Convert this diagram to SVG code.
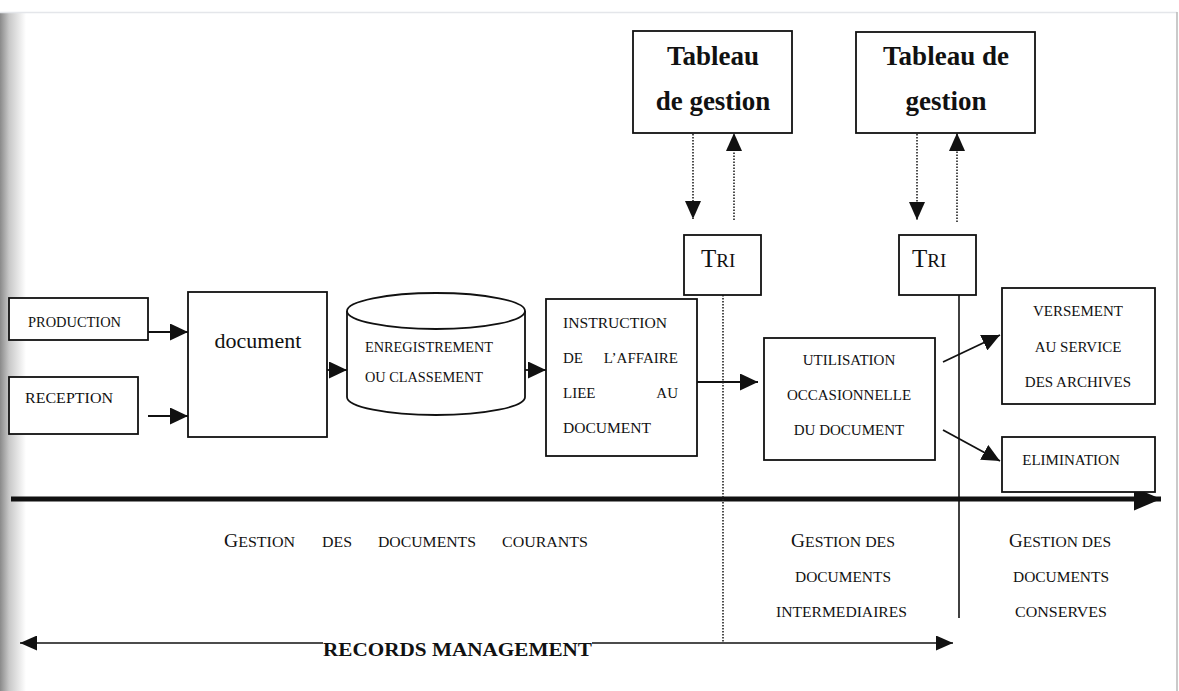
<svg xmlns="http://www.w3.org/2000/svg" width="1179" height="691" viewBox="0 0 1179 691">
<style>
.box{fill:#fff;stroke:#111;stroke-width:1.8}
.ln{fill:none;stroke:#111;stroke-width:1.8}
.dot{fill:none;stroke:#222;stroke-width:1.6;stroke-dasharray:1.5 1.5}
.t{font-family:"Liberation Serif","Times New Roman",serif;font-size:15px;fill:#111}
.tb{font-family:"Liberation Serif","Times New Roman",serif;font-size:27px;font-weight:bold;fill:#111}
.sc{font-family:"Liberation Serif","Times New Roman",serif;font-size:15.5px;fill:#111}
.mid{text-anchor:middle}
</style>
<defs>
<linearGradient id="edge" x1="0" y1="0" x2="1" y2="0">
<stop offset="0" stop-color="#8a8a8a"/>
<stop offset="0.35" stop-color="#c8c8c8"/>
<stop offset="1" stop-color="#ffffff"/>
</linearGradient>
<marker id="ah" markerUnits="userSpaceOnUse" markerWidth="18" markerHeight="17" refX="18" refY="8.5" orient="auto" viewBox="0 0 18 17">
<path d="M0,0 L18,8.5 L0,17 z" fill="#111"/>
</marker>
<marker id="ahd" markerUnits="userSpaceOnUse" markerWidth="18" markerHeight="16" refX="18" refY="8" orient="auto" viewBox="0 0 18 16">
<path d="M0,0 L18,8 L0,16 z" fill="#111"/>
</marker>
<marker id="ahb" markerUnits="userSpaceOnUse" markerWidth="27" markerHeight="23" refX="27" refY="11.5" orient="auto" viewBox="0 0 27 23">
<path d="M0,0 L27,11.5 L0,23 z" fill="#111"/>
</marker>
<marker id="ahs" markerUnits="userSpaceOnUse" markerWidth="17" markerHeight="15" refX="17" refY="7.5" orient="auto-start-reverse" viewBox="0 0 17 15">
<path d="M0,0 L17,7.5 L0,15 z" fill="#111"/>
</marker>
</defs>
<rect x="0" y="0" width="1179" height="691" fill="#fff"/>
<rect x="0" y="12" width="26" height="679" fill="url(#edge)"/>
<line x1="0" y1="12.5" x2="1177" y2="12.5" stroke="#e4e6ea" stroke-width="1.5"/>
<line x1="1177" y1="12" x2="1177" y2="691" stroke="#b8b8b8" stroke-width="1.5"/>

<g id="connectors">
<line class="ln" x1="148" y1="332" x2="188" y2="332" marker-end="url(#ah)"/>
<line class="ln" x1="148" y1="416" x2="188" y2="416" marker-end="url(#ah)"/>
<line class="ln" x1="327" y1="370" x2="347" y2="370" marker-end="url(#ah)"/>
<line class="ln" x1="525" y1="370" x2="546" y2="370" marker-end="url(#ah)"/>
<line class="ln" x1="697" y1="382" x2="758" y2="382" marker-end="url(#ah)"/>
<line class="ln" x1="943" y1="362" x2="1000" y2="335" marker-end="url(#ah)"/>
<line class="ln" x1="943" y1="430" x2="1000" y2="461" marker-end="url(#ah)"/>
<line class="dot" x1="693" y1="134" x2="693" y2="219" marker-end="url(#ahd)"/>
<line class="dot" x1="734" y1="220" x2="734" y2="133" marker-end="url(#ahd)"/>
<line class="dot" x1="917" y1="134" x2="917" y2="220" marker-end="url(#ahd)"/>
<line class="dot" x1="957" y1="222" x2="957" y2="133" marker-end="url(#ahd)"/>
<line x1="11" y1="499" x2="1161" y2="499" stroke="#111" stroke-width="5" marker-end="url(#ahb)"/>
<line class="dot" x1="723" y1="295" x2="723" y2="643" stroke-width="1.2"/>
<line x1="959" y1="295" x2="959" y2="618" stroke="#111" stroke-width="1.6"/>
<line x1="20" y1="643" x2="323" y2="643" stroke="#111" stroke-width="1.6" marker-start="url(#ahs)"/>
<line x1="592" y1="643" x2="953" y2="643" stroke="#111" stroke-width="1.6" marker-end="url(#ahs)"/>
</g>

<g id="production">
<rect class="box" x="9" y="298" width="139" height="42"/>
<text class="t" x="28" y="327" textLength="93" lengthAdjust="spacingAndGlyphs">PRODUCTION</text>
</g>
<g id="reception">
<rect class="box" x="9" y="377" width="129" height="57"/>
<text class="t" x="25" y="403" textLength="88" lengthAdjust="spacingAndGlyphs">RECEPTION</text>
</g>
<g id="document">
<rect class="box" x="188" y="292" width="139" height="145"/>
<text class="t mid" x="258" y="348" style="font-size:22px">document</text>
</g>
<g id="enregistrement">
<path class="box" d="M347,311 L347,397 A89,18 0 0 0 525,397 L525,311"/>
<ellipse class="box" cx="436" cy="311" rx="89" ry="18"/>
<text class="t" x="365" y="352" textLength="128" lengthAdjust="spacingAndGlyphs">ENREGISTREMENT</text>
<text class="t" x="365" y="382" textLength="118" lengthAdjust="spacingAndGlyphs">OU CLASSEMENT</text>
</g>
<g id="instruction">
<rect class="box" x="546" y="299" width="151" height="157"/>
<text class="t" x="563" y="328" textLength="104" lengthAdjust="spacingAndGlyphs">INSTRUCTION</text>
<text class="t" x="563" y="363">DE</text>
<text class="t" x="678" y="363" text-anchor="end">L’AFFAIRE</text>
<text class="t" x="563" y="398">LIEE</text>
<text class="t" x="678" y="398" text-anchor="end">AU</text>
<text class="t" x="563" y="433" textLength="88" lengthAdjust="spacingAndGlyphs">DOCUMENT</text>
</g>
<g id="utilisation">
<rect class="box" x="764" y="338" width="171" height="122"/>
<text class="t mid" x="849" y="365">UTILISATION</text>
<text class="t mid" x="849" y="400">OCCASIONNELLE</text>
<text class="t mid" x="849" y="435">DU DOCUMENT</text>
</g>
<g id="versement">
<rect class="box" x="1002" y="288" width="153" height="116"/>
<text class="t mid" x="1078" y="316">VERSEMENT</text>
<text class="t mid" x="1078" y="352">AU SERVICE</text>
<text class="t mid" x="1078" y="387">DES ARCHIVES</text>
</g>
<g id="elimination">
<rect class="box" x="1002" y="437" width="153" height="55"/>
<text class="t mid" x="1071" y="465">ELIMINATION</text>
</g>
<g id="tableau1">
<rect class="box" x="633" y="31" width="159" height="102"/>
<text class="tb mid" x="713" y="65">Tableau</text>
<text class="tb mid" x="713" y="110">de gestion</text>
</g>
<g id="tableau2">
<rect class="box" x="856" y="32" width="179" height="101"/>
<text class="tb mid" x="946" y="65">Tableau de</text>
<text class="tb mid" x="946" y="110">gestion</text>
</g>
<g id="tri1">
<rect class="box" x="684" y="235" width="77" height="60"/>
<text class="t" x="701" y="267"><tspan style="font-size:25px">T</tspan><tspan style="font-size:19px">RI</tspan></text>
</g>
<g id="tri2">
<rect class="box" x="899" y="235" width="77" height="60"/>
<text class="t" x="912" y="267"><tspan style="font-size:25px">T</tspan><tspan style="font-size:19px">RI</tspan></text>
</g>

<g id="labels">
<text class="sc" x="224" y="547" textLength="71" lengthAdjust="spacingAndGlyphs"><tspan style="font-size:19px">G</tspan>ESTION</text>
<text class="sc" x="322" y="547" textLength="30" lengthAdjust="spacingAndGlyphs">DES</text>
<text class="sc" x="378" y="547" textLength="98" lengthAdjust="spacingAndGlyphs">DOCUMENTS</text>
<text class="sc" x="502" y="547" textLength="86" lengthAdjust="spacingAndGlyphs">COURANTS</text>

<text class="sc" x="791" y="547" textLength="104" lengthAdjust="spacingAndGlyphs"><tspan style="font-size:19px">G</tspan>ESTION DES</text>
<text class="sc" x="795" y="582" textLength="96" lengthAdjust="spacingAndGlyphs">DOCUMENTS</text>
<text class="sc" x="776" y="617" textLength="131" lengthAdjust="spacingAndGlyphs">INTERMEDIAIRES</text>

<text class="sc" x="1009" y="547" textLength="102" lengthAdjust="spacingAndGlyphs"><tspan style="font-size:19px">G</tspan>ESTION DES</text>
<text class="sc" x="1013" y="582" textLength="96" lengthAdjust="spacingAndGlyphs">DOCUMENTS</text>
<text class="sc" x="1015" y="617" textLength="92" lengthAdjust="spacingAndGlyphs">CONSERVES</text>

<text class="t" x="323" y="656" style="font-size:19px;font-weight:bold" textLength="269" lengthAdjust="spacingAndGlyphs">RECORDS MANAGEMENT</text>
</g>
</svg>
